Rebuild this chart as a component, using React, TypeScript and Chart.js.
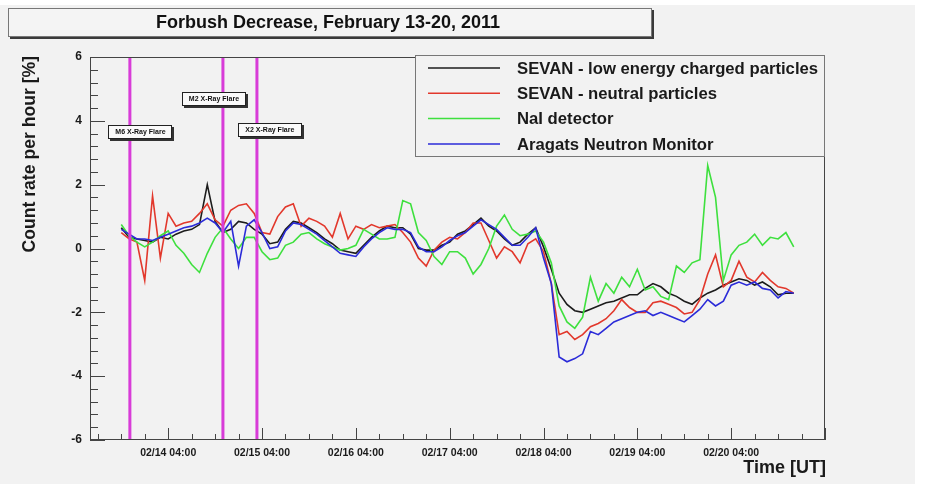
import React, { useEffect, useRef } from "react";
import { Chart, registerables } from "chart.js";

Chart.register(...registerables);

const W = 930;
const H = 484;
const FONT = '"Liberation Sans", Arial, Helvetica, sans-serif';
const BG = "#f2f2f2";

// time axis in hours since 2011-02-13 00:00 UT
const hours = [
  16, 18, 20, 22, 24, 26, 28, 30, 32, 34, 36, 38, 40, 42,
  44, 46, 48, 50, 52, 54, 56, 58, 60, 62, 64, 66, 68, 70,
  72, 74, 76, 78, 80, 82, 84, 86, 88, 90, 92, 94, 96, 98,
  100, 102, 104, 106, 108, 110, 112, 114, 116, 118, 120, 122, 124, 126,
  128, 130, 132, 134, 136, 138, 140, 142, 144, 146, 148, 150, 152, 154,
  156, 158, 160, 162, 164, 166, 168, 170, 172, 174, 176, 178, 180, 182,
  184, 186, 188,
];

const sevanCharged = [
  0.65, 0.35, 0.3, 0.25, 0.2, 0.35, 0.3, 0.45, 0.55, 0.6, 0.75, 2.0, 0.85, 0.5,
  0.6, 0.85, 0.8, 0.6, 0.45, 0.15, 0.2, 0.6, 0.85, 0.8, 0.65, 0.5, 0.3, 0.15,
  -0.05, -0.1, -0.15, 0.1, 0.35, 0.55, 0.7, 0.65, 0.65, 0.45, 0.0, -0.05, -0.05, 0.1,
  0.2, 0.45, 0.55, 0.75, 0.95, 0.7, 0.55, 0.3, 0.1, 0.2, 0.45, 0.65, 0.05, -0.65,
  -1.4, -1.75, -1.95, -2.0, -1.9, -1.8, -1.7, -1.65, -1.55, -1.45, -1.45, -1.25, -1.1, -1.2,
  -1.4, -1.5, -1.65, -1.75, -1.55, -1.4, -1.3, -1.15, -1.05, -0.95, -1.0, -1.15, -1.05, -1.2,
  -1.45, -1.4, -1.4,
];

const sevanNeutral = [
  0.5, 0.3, 0.2, -1.0, 1.65, -0.3, 1.1, 0.7, 0.8, 0.85, 1.1, 1.4, 0.9, 0.7,
  1.2, 1.35, 1.4, 1.1, 0.5, 0.45, 1.0, 1.3, 1.4, 0.7, 0.95, 0.85, 0.7, 0.35,
  1.1, 0.3, 0.7, 0.6, 0.75, 0.65, 0.7, 0.75, 0.5, 0.2, -0.3, -0.55, -0.05, 0.2,
  0.35, 0.3, 0.5, 0.8, 0.8, 0.25, -0.3, 0.05, -0.1, -0.45, 0.15, 0.3, -0.1, -1.1,
  -2.7, -2.6, -2.85, -2.7, -2.45, -2.35, -2.2, -1.95, -1.6, -1.85, -2.0, -2.0, -1.7, -1.65,
  -1.75, -1.85, -2.05, -2.0, -1.6, -0.8, -0.2, -1.2, -1.0, -0.4, -0.9, -1.05, -0.75, -1.0,
  -1.2, -1.25, -1.4,
];

const naiDetector = [
  0.75, 0.4, 0.2, 0.05, 0.2, 0.4, 0.55, 0.1, -0.15, -0.5, -0.75, -0.15, 0.35, 0.65,
  0.3, 0.0, 0.35, 0.35, -0.1, -0.35, -0.3, 0.1, 0.2, 0.45, 0.5, 0.3, 0.15, 0.05,
  -0.05, 0.0, 0.1, 0.6, 0.45, 0.3, 0.3, 0.35, 1.5, 1.4, 0.5, 0.25, -0.25, -0.5,
  -0.1, -0.1, -0.3, -0.8, -0.5, 0.0, 0.7, 1.05, 0.6, 0.4, 0.45, 0.55, 0.2, -0.45,
  -1.8, -2.3, -2.5, -2.15, -0.9, -1.65, -1.1, -1.4, -0.9, -1.2, -0.65, -1.3, -1.2, -1.5,
  -1.6, -0.55, -0.75, -0.45, -0.35, 2.6, 1.6, -1.0, -0.2, 0.1, 0.2, 0.45, 0.1, 0.35,
  0.3, 0.5, 0.05,
];

const aragatsNM = [
  0.6, 0.45, 0.3, 0.3, 0.25, 0.35, 0.45, 0.55, 0.65, 0.7, 0.8, 0.95, 0.8, 0.5,
  0.85, -0.55, 0.7, 0.9, 0.5, 0.0, 0.05, 0.55, 0.8, 0.75, 0.6, 0.45, 0.25, 0.05,
  -0.15, -0.2, -0.25, 0.05, 0.3, 0.5, 0.65, 0.6, 0.6, 0.5, 0.05, -0.1, -0.1, 0.05,
  0.25, 0.4, 0.5, 0.7, 0.9, 0.75, 0.6, 0.35, 0.1, 0.1, 0.35, 0.65, -0.3, -1.1,
  -3.4, -3.55, -3.45, -3.3, -2.6, -2.7, -2.5, -2.3, -2.2, -2.1, -2.0, -1.95, -2.1, -2.0,
  -2.1, -2.2, -2.3, -2.1, -1.9, -1.6, -1.8, -1.65, -1.15, -1.05, -1.15, -1.05, -1.25, -1.3,
  -1.55, -1.35, -1.4,
];

const seriesNames = [
  "SEVAN - low energy charged particles",
  "SEVAN - neutral particles",
  "NaI detector",
  "Aragats Neutron Monitor",
];
const seriesColors = ["#1c1c1c", "#e2382c", "#3ee03e", "#2b2bd8"];

const xMin = 8;
const xMax = 196;
const xTickHours = [28, 52, 76, 100, 124, 148, 172];
const xTickLabels = [
  "02/14 04:00",
  "02/15 04:00",
  "02/16 04:00",
  "02/17 04:00",
  "02/18 04:00",
  "02/19 04:00",
  "02/20 04:00",
];
const yTicks = [-6, -4, -2, 0, 2, 4, 6];

const flareHours = [18.2, 42.0, 50.7];
const flareLabels = ["M6 X-Ray Flare", "M2 X-Ray Flare", "X2 X-Ray Flare"];
const flareLabelHours = [20.9, 39.7, 54.0];
const flareLabelValues = [3.66, 4.69, 3.72];

const titleText = "Forbush Decrease, February 13-20, 2011";
const yTitle = "Count rate per hour [%]";
const xTitle = "Time [UT]";

const decor = {
  id: "decor",
  beforeDraw(chart: any) {
    const ctx = chart.ctx;
    ctx.save();
    ctx.fillStyle = "#ffffff";
    ctx.fillRect(0, 0, W, H);
    ctx.fillStyle = BG;
    ctx.fillRect(0, 5, 915, H - 5);
    // title box
    const bx = 8, by = 8, bw = 644, bh = 29;
    ctx.fillStyle = "#3a3a3a";
    ctx.fillRect(bx + 2, by + 2, bw, bh);
    ctx.fillStyle = "#f4f4f4";
    ctx.fillRect(bx, by, bw, bh);
    ctx.strokeStyle = "#777";
    ctx.lineWidth = 1;
    ctx.strokeRect(bx + 0.5, by + 0.5, bw - 1, bh - 1);
    ctx.fillStyle = "#111";
    ctx.font = `bold 18px ${FONT}`;
    ctx.textAlign = "center";
    ctx.textBaseline = "middle";
    ctx.fillText(titleText, bx + bw / 2 - 2, by + bh / 2 + 1);
    ctx.restore();
  },
  afterDatasetsDraw(chart: any) {
    const ctx = chart.ctx;
    const { left, right, top, bottom } = chart.chartArea;
    const xs = chart.scales.x;
    const ys = chart.scales.y;
    ctx.save();

    // flare lines
    ctx.strokeStyle = "#d83cd8";
    ctx.lineWidth = 3;
    flareHours.forEach((h) => {
      const x = xs.getPixelForValue(h);
      ctx.beginPath();
      ctx.moveTo(x, top);
      ctx.lineTo(x, bottom);
      ctx.stroke();
    });

    // flare labels
    flareLabels.forEach((t, i) => {
      const cx = xs.getPixelForValue(flareLabelHours[i]);
      const cy = ys.getPixelForValue(flareLabelValues[i]);
      const w = 64, h = 14;
      const x0 = Math.round(cx - w / 2), y0 = Math.round(cy - h / 2);
      ctx.fillStyle = "#333";
      ctx.fillRect(x0 + 2, y0 + 2, w, h);
      ctx.fillStyle = "#fafafa";
      ctx.fillRect(x0, y0, w, h);
      ctx.strokeStyle = "#222";
      ctx.lineWidth = 1;
      ctx.strokeRect(x0 + 0.5, y0 + 0.5, w - 1, h - 1);
      ctx.fillStyle = "#111";
      ctx.font = `bold 7px ${FONT}`;
      ctx.textAlign = "center";
      ctx.textBaseline = "middle";
      ctx.fillText(t, cx, cy + 0.5);
    });

    // frame
    ctx.strokeStyle = "#444";
    ctx.lineWidth = 1;
    ctx.strokeRect(left + 0.5, top + 0.5, right - left - 1, bottom - top - 1);

    // inside ticks, y
    ctx.beginPath();
    for (let i = 0; i <= 30; i++) {
      const v = -6 + i * 0.4;
      const y = Math.round(ys.getPixelForValue(v)) + 0.5;
      const len = i % 5 === 0 ? 15 : 8;
      ctx.moveTo(left, y);
      ctx.lineTo(left + len, y);
    }
    // inside ticks, x (every 6 h, major every 24 h)
    for (let h = 10; h <= xMax; h += 6) {
      const x = Math.round(xs.getPixelForValue(h)) + 0.5;
      const len = (h - 28) % 24 === 0 ? 12 : 6;
      ctx.moveTo(x, bottom);
      ctx.lineTo(x, bottom - len);
    }
    ctx.stroke();

    // legend
    const lx = 415, ly = 55, lw = 410, lh = 102;
    ctx.fillStyle = BG;
    ctx.fillRect(lx, ly, lw, lh);
    ctx.strokeStyle = "#777";
    ctx.strokeRect(lx + 0.5, ly + 0.5, lw - 1, lh - 1);
    ctx.font = `bold 16.7px ${FONT}`;
    ctx.textAlign = "left";
    ctx.textBaseline = "middle";
    seriesNames.forEach((n, i) => {
      const y = ly + 13 + i * 25.3;
      ctx.strokeStyle = seriesColors[i];
      ctx.lineWidth = 1.5;
      ctx.beginPath();
      ctx.moveTo(428, y);
      ctx.lineTo(500, y);
      ctx.stroke();
      ctx.fillStyle = "#1a1a1a";
      ctx.fillText(n, 517, y + 1);
    });

    // axis titles
    ctx.fillStyle = "#1a1a1a";
    ctx.font = `bold 18px ${FONT}`;
    ctx.textAlign = "right";
    ctx.textBaseline = "middle";
    ctx.fillText(xTitle, 826, 468);
    ctx.font = `bold 17.6px ${FONT}`;
    ctx.translate(30, top - 1);
    ctx.rotate(-Math.PI / 2);
    ctx.fillText(yTitle, 0, 0);
    ctx.restore();
  },
};

export default function App() {
  const ref = useRef<HTMLCanvasElement | null>(null);
  useEffect(() => {
    if (!ref.current) return;
    const mk = (vals: number[]) => hours.map((h, i) => ({ x: h, y: vals[i] }));
    const all = [sevanCharged, sevanNeutral, naiDetector, aragatsNM];
    const chart = new Chart(ref.current, {
      type: "line",
      data: {
        datasets: all.map((vals, i) => ({
          label: seriesNames[i],
          data: mk(vals),
          borderColor: seriesColors[i],
          backgroundColor: seriesColors[i],
          borderWidth: 1.6,
          pointRadius: 0,
          tension: 0,
          fill: false,
          order: 4 - i,
        })),
      },
      options: {
        animation: false,
        responsive: false,
        devicePixelRatio: 1,
        layout: { padding: { left: 0, right: W - 825, top: 57, bottom: 0 } },
        plugins: { legend: { display: false }, title: { display: false }, tooltip: { enabled: false } },
        scales: {
          x: {
            type: "linear",
            min: xMin,
            max: xMax,
            afterBuildTicks: (s: any) => {
              s.ticks = xTickHours.map((v) => ({ value: v }));
            },
            afterFit: (s: any) => {
              s.height = H - 440;
            },
            ticks: {
              autoSkip: false,
              maxRotation: 0,
              padding: 7,
              color: "#1a1a1a",
              font: { family: FONT, size: 10.5, weight: "bold" },
              callback: (_v: any, i: number) => xTickLabels[i],
            },
            grid: { display: false, drawTicks: false },
            border: { display: false },
          },
          y: {
            min: -6,
            max: 6,
            afterBuildTicks: (s: any) => {
              s.ticks = yTicks.map((v) => ({ value: v }));
            },
            afterFit: (s: any) => {
              s.width = 90;
            },
            ticks: {
              padding: 8,
              color: "#1a1a1a",
              font: { family: FONT, size: 12, weight: "bold" },
              callback: (v: any) => String(v),
            },
            grid: { display: false, drawTicks: false },
            border: { display: false },
          },
        },
      },
      plugins: [decor],
    } as any);
    return () => chart.destroy();
  }, []);
  return (
    <div style={{ position: "fixed", left: 0, top: 0, width: W, height: H, background: "#fff" }}>
      <canvas ref={ref} width={W} height={H} style={{ display: "block", width: W, height: H }} />
    </div>
  );
}
